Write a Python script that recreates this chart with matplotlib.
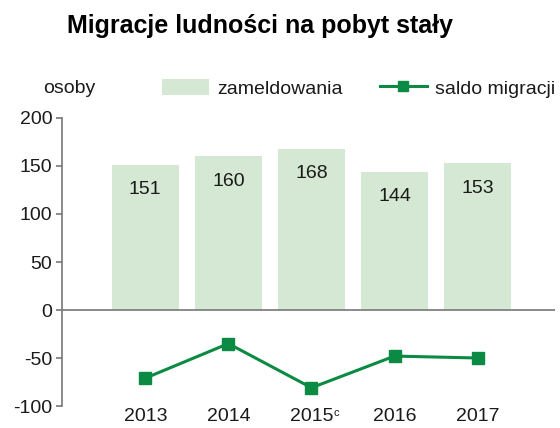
#!/usr/bin/env python3
"""Migracje ludności na pobyt stały - bars plus saldo line."""

import matplotlib

matplotlib.use("Agg")

import matplotlib.pyplot as plt
from matplotlib.lines import Line2D
from matplotlib.patches import Patch

years = ["2013", "2014", "2015", "2016", "2017"]
year_notes = ["", "", "c", "", ""]
zameldowania = [151, 160, 168, 144, 153]
saldo = [-71, -35, -81, -48, -50]
y_ticks = [-100, -50, 0, 50, 100, 150, 200]

BAR_COLOR = "#d5e8d4"
LINE_COLOR = "#0b8a43"
TEXT_COLOR = "#1a1a1a"
FS = 14

plt.rcParams["font.family"] = ["Liberation Sans", "DejaVu Sans"]

fig = plt.figure(figsize=(5.6, 4.28), dpi=100)
ax = fig.add_axes([0.111, 0.0514, 0.88, 0.6729])

x = list(range(len(years)))
ax.bar(x, zameldowania, width=0.8, color=BAR_COLOR, zorder=1)
for xi, v in zip(x, zameldowania):
    ax.text(xi, v - 26, str(v), ha="center", va="center", fontsize=FS, color=TEXT_COLOR)

ax.plot(x, saldo, color=LINE_COLOR, linewidth=2.2, marker="s", markersize=8, zorder=3)

ax.axhline(0, color="#777777", linewidth=1.2, zorder=2)
ax.set_xlim(-1.0, 4.93)
ax.set_ylim(-100, 200)
ax.set_yticks(y_ticks)
ax.set_yticklabels([str(t) for t in y_ticks], fontsize=FS, color=TEXT_COLOR)
ax.tick_params(axis="y", length=4, color="#777777", width=1.2, pad=3)

ax.set_xticks([])
for xi, label, note in zip(x, years, year_notes):
    ax.text(xi, -102, label, ha="center", va="top", fontsize=FS, color=TEXT_COLOR)
    if note:
        ax.text(xi + 0.27, -102, note, ha="left", va="top", fontsize=8, color=TEXT_COLOR)

for side in ["top", "right", "bottom"]:
    ax.spines[side].set_visible(False)
ax.spines["left"].set_color("#777777")
ax.spines["left"].set_linewidth(1.2)

fig.text(0.465, 0.94, "Migracje ludności na pobyt stały", ha="center", va="center",
         fontsize=18, fontweight="bold")
fig.text(0.123, 0.794, "osoby", ha="center", va="center", fontsize=FS, color=TEXT_COLOR)

handles = [
    Patch(facecolor=BAR_COLOR, edgecolor="none"),
    Line2D([0], [0], color=LINE_COLOR, linewidth=2.2, marker="s", markersize=7),
]
fig.legend(handles, ["zameldowania", "saldo migracji"], loc="center",
           bbox_to_anchor=(0.641, 0.794), ncol=2, frameon=False, fontsize=FS,
           handlelength=2.4, handleheight=0.9, columnspacing=1.9, handletextpad=0.45,
           borderpad=0, labelcolor=TEXT_COLOR)

fig.savefig("out.png", dpi=100)
